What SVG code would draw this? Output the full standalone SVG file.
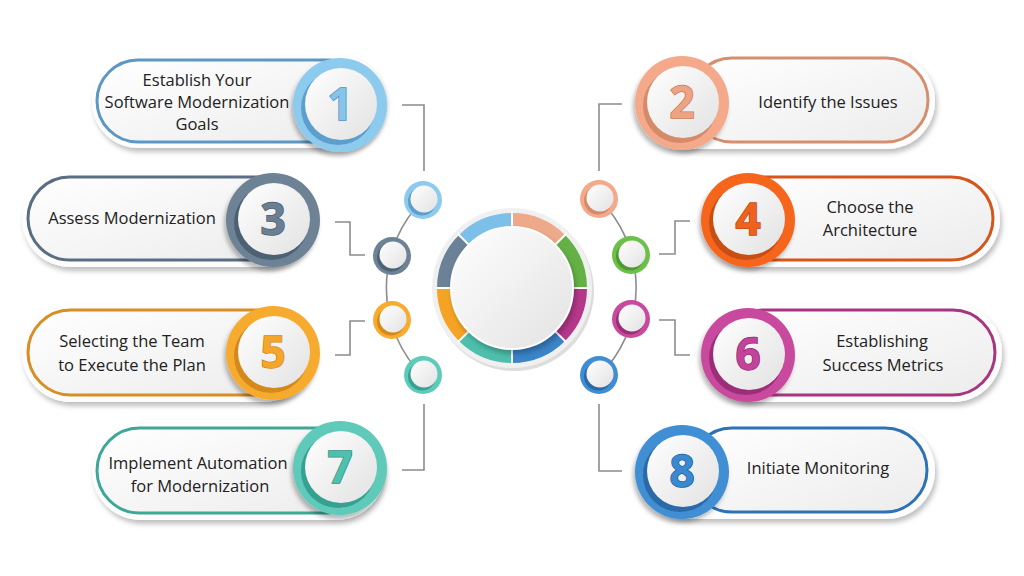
<svg xmlns="http://www.w3.org/2000/svg" width="1024" height="576" viewBox="0 0 1024 576">
<style>
.outer{fill:#fdfdfd;filter:url(#sh)}
.pill{fill:url(#pg);stroke-width:3}
.lbl{font-family:"Open Sans","Liberation Sans",sans-serif;font-size:16.5px;fill:#222;text-anchor:middle}
.num{font-family:"Open Sans","Liberation Sans",sans-serif;font-size:44px;font-weight:700;text-anchor:middle;stroke-width:1.5;paint-order:stroke}
.ln{fill:none;stroke:#8c8c8c;stroke-width:1.6}
.arc{fill:none;stroke:#8c8c8c;stroke-width:1.6}
.wd{fill:url(#wg)}
</style>
<defs>
<linearGradient id="wg" x1="0" y1="0" x2="1" y2="1"><stop offset="0" stop-color="#ffffff"/><stop offset="1" stop-color="#e2e2e2"/></linearGradient>
<linearGradient id="pg" x1="0" y1="0" x2="1" y2="1"><stop offset="0" stop-color="#ffffff"/><stop offset="1" stop-color="#ececec"/></linearGradient>
<filter id="sh" x="-20%" y="-20%" width="140%" height="160%"><feDropShadow dx="2" dy="4" stdDeviation="2.5" flood-color="#000" flood-opacity="0.25"/></filter>
<filter id="sh2" x="-30%" y="-30%" width="160%" height="160%"><feDropShadow dx="-2" dy="4" stdDeviation="2" flood-color="#000" flood-opacity="0.28"/></filter>
</defs>
<rect width="1024" height="576" fill="#ffffff"/>

<g id="connectors">
<path class="arc" d="M423,200 A124,124 0 0 0 423,376"/>
<path class="arc" d="M599,199 A124,124 0 0 1 599,376"/>
<path class="ln" d="M402,105 H424 V171"/>
<path class="ln" d="M335,222 H350 V255 H365"/>
<path class="ln" d="M335,355 H350 V321 H365"/>
<path class="ln" d="M424,404 V470 H402"/>
<path class="ln" d="M622,104 H599 V171"/>
<path class="ln" d="M690,221 H675 V254 H659"/>
<path class="ln" d="M659,320 H675 V355 H690"/>
<path class="ln" d="M599,404 V471 H622"/>
</g>

<g id="hub">
<circle cx="514" cy="291" r="80" fill="#d4d4d4" opacity="0.8"/>
<circle cx="512" cy="288" r="80" fill="#f0f0f0"/>
<g fill="none" stroke-width="14">
<path d="M512,220 A68,68 0 0 1 560.08,239.92" stroke="#eda98a"/>
<path d="M560.08,239.92 A68,68 0 0 1 580,288" stroke="#64b146"/>
<path d="M580,288 A68,68 0 0 1 560.08,336.08" stroke="#b5378a"/>
<path d="M560.08,336.08 A68,68 0 0 1 512,356" stroke="#3a84c9"/>
<path d="M512,356 A68,68 0 0 1 463.92,336.08" stroke="#4dbfac"/>
<path d="M463.92,336.08 A68,68 0 0 1 444,288" stroke="#f5a325"/>
<path d="M444,288 A68,68 0 0 1 463.92,239.92" stroke="#6b8198"/>
<path d="M463.92,239.92 A68,68 0 0 1 512,220" stroke="#7cc0e9"/>
</g>
<g stroke="#ffffff" stroke-width="2">
<line x1="512" y1="211" x2="512" y2="229"/>
<line x1="566.4" y1="233.6" x2="553.7" y2="246.3"/>
<line x1="589" y1="288" x2="571" y2="288"/>
<line x1="566.4" y1="342.4" x2="553.7" y2="329.7"/>
<line x1="512" y1="365" x2="512" y2="347"/>
<line x1="457.6" y1="342.4" x2="470.3" y2="329.7"/>
<line x1="435" y1="288" x2="453" y2="288"/>
<line x1="457.6" y1="233.6" x2="470.3" y2="246.3"/>
</g>
<circle cx="512" cy="288" r="61" fill="url(#wg)" stroke="#ffffff" stroke-width="2" filter="url(#sh)"/>
</g>

<g id="dots">
<g><circle cx="423" cy="200" r="19" fill="#8dcbee"/><circle cx="422" cy="201.5" r="14" fill="#5d9fcc"/><circle cx="424" cy="199" r="13.5" class="wd"/></g>
<g><circle cx="392" cy="256" r="19" fill="#6e8296"/><circle cx="391" cy="257.5" r="14" fill="#4d6175"/><circle cx="393" cy="255" r="13.5" class="wd"/></g>
<g><circle cx="392" cy="320" r="19" fill="#f7ab2f"/><circle cx="391" cy="321.5" r="14" fill="#d48a1a"/><circle cx="393" cy="319" r="13.5" class="wd"/></g>
<g><circle cx="423" cy="375" r="19" fill="#5ecab9"/><circle cx="422" cy="376.5" r="14" fill="#36a191"/><circle cx="424" cy="374" r="13.5" class="wd"/></g>
<g><circle cx="599" cy="199" r="19" fill="#f3a98a"/><circle cx="598" cy="200.5" r="14" fill="#d58a6a"/><circle cx="600" cy="198" r="13.5" class="wd"/></g>
<g><circle cx="631" cy="255" r="19" fill="#6cc04a"/><circle cx="630" cy="256.5" r="14" fill="#4c9a30"/><circle cx="632" cy="254" r="13.5" class="wd"/></g>
<g><circle cx="631" cy="319" r="19" fill="#c84a9e"/><circle cx="630" cy="320.5" r="14" fill="#9c2e78"/><circle cx="632" cy="318" r="13.5" class="wd"/></g>
<g><circle cx="599" cy="375" r="19" fill="#3f8ed3"/><circle cx="598" cy="376.5" r="14" fill="#2a6aa8"/><circle cx="600" cy="374" r="13.5" class="wd"/></g>
</g>

<g id="node1">
<rect class="outer" x="92" y="55" width="293" height="93" rx="46.5"/>
<rect class="pill" x="97" y="60" width="273" height="82" rx="41" stroke="#5d97c4"/>
<text class="lbl" x="197" y="86">Establish Your</text>
<text class="lbl" x="197" y="108">Software Modernization</text>
<text class="lbl" x="197" y="130">Goals</text>
<circle cx="340" cy="105" r="47" fill="#8dcbee" filter="url(#sh2)"/>
<circle cx="338" cy="108" r="37" fill="#5d9fcc"/>
<circle cx="341" cy="104" r="36" class="wd"/>
<text class="num" x="340" y="120" fill="#86c4ea" stroke="#4f8fbf">1</text>
</g>

<g id="node2">
<rect class="outer" x="640" y="53" width="295" height="96" rx="48"/>
<rect class="pill" x="690" y="58" width="238" height="84" rx="42" stroke="#d58f6e"/>
<text class="lbl" x="828" y="108">Identify the Issues</text>
<circle cx="682" cy="103" r="47" fill="#f3a98a" filter="url(#sh2)"/>
<circle cx="680" cy="106" r="37" fill="#d58a6a"/>
<circle cx="683" cy="102" r="36" class="wd"/>
<text class="num" x="682" y="118" fill="#eea384" stroke="#c97a58">2</text>
</g>

<g id="node3">
<rect class="outer" x="22" y="171" width="290" height="96" rx="48"/>
<rect class="pill" x="28" y="177" width="272" height="83" rx="41.5" stroke="#596e82"/>
<text class="lbl" x="132" y="224">Assess Modernization</text>
<circle cx="273" cy="220" r="47" fill="#6e8296" filter="url(#sh2)"/>
<circle cx="271" cy="223" r="37" fill="#4d6175"/>
<circle cx="274" cy="219" r="36" class="wd"/>
<text class="num" x="273" y="235" fill="#6b7f93" stroke="#4b5f73">3</text>
</g>

<g id="node4">
<rect class="outer" x="705" y="171" width="295" height="96" rx="48"/>
<rect class="pill" x="720" y="177" width="273" height="83" rx="41.5" stroke="#d5561d"/>
<text class="lbl" x="870" y="213">Choose the</text>
<text class="lbl" x="870" y="236">Architecture</text>
<circle cx="748" cy="220" r="47" fill="#f5661f" filter="url(#sh2)"/>
<circle cx="746" cy="223" r="37" fill="#c94e14"/>
<circle cx="749" cy="219" r="36" class="wd"/>
<text class="num" x="748" y="235" fill="#ee6220" stroke="#c24a12">4</text>
</g>

<g id="node5">
<rect class="outer" x="22" y="304" width="290" height="98" rx="49"/>
<rect class="pill" x="28" y="310" width="272" height="85" rx="42.5" stroke="#d98e23"/>
<text class="lbl" x="132" y="347">Selecting the Team</text>
<text class="lbl" x="132" y="371">to Execute the Plan</text>
<circle cx="273" cy="353" r="47" fill="#f7ab2f" filter="url(#sh2)"/>
<circle cx="271" cy="356" r="37" fill="#d48a1a"/>
<circle cx="274" cy="352" r="36" class="wd"/>
<text class="num" x="273" y="368" fill="#f5a62a" stroke="#d0871a">5</text>
</g>

<g id="node6">
<rect class="outer" x="705" y="304" width="297" height="98" rx="49"/>
<rect class="pill" x="720" y="310" width="275" height="85" rx="42.5" stroke="#a8357f"/>
<text class="lbl" x="882" y="347">Establishing</text>
<text class="lbl" x="883" y="371">Success Metrics</text>
<circle cx="748" cy="355" r="47" fill="#c84a9e" filter="url(#sh2)"/>
<circle cx="746" cy="358" r="37" fill="#9c2e78"/>
<circle cx="749" cy="354" r="36" class="wd"/>
<text class="num" x="748" y="370" fill="#c2439a" stroke="#952a72">6</text>
</g>

<g id="node7">
<rect class="outer" x="92" y="422" width="293" height="98" rx="49"/>
<rect class="pill" x="97" y="428" width="273" height="85" rx="42.5" stroke="#3ea898"/>
<text class="lbl" x="198" y="469">Implement Automation</text>
<text class="lbl" x="200" y="492">for Modernization</text>
<circle cx="340" cy="468" r="47" fill="#5ecab9" filter="url(#sh2)"/>
<circle cx="338" cy="471" r="37" fill="#36a191"/>
<circle cx="341" cy="467" r="36" class="wd"/>
<text class="num" x="340" y="483" fill="#4fbfae" stroke="#2f9383">7</text>
</g>

<g id="node8">
<rect class="outer" x="640" y="422" width="295" height="97" rx="48.5"/>
<rect class="pill" x="690" y="428" width="237" height="84" rx="42" stroke="#2f72b3"/>
<text class="lbl" x="818" y="474">Initiate Monitoring</text>
<circle cx="682" cy="472" r="47" fill="#3f8ed3" filter="url(#sh2)"/>
<circle cx="680" cy="475" r="37" fill="#2a6aa8"/>
<circle cx="683" cy="471" r="36" class="wd"/>
<text class="num" x="682" y="487" fill="#3a88cf" stroke="#25609c">8</text>
</g>
</svg>
